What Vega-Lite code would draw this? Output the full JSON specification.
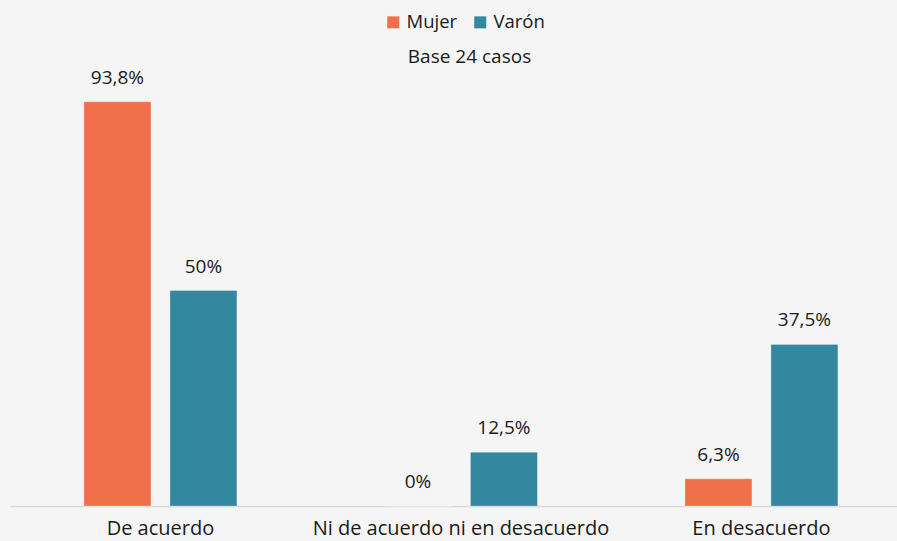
{
  "$schema": "https://vega.github.io/schema/vega-lite/v6.json",
  "width": 887,
  "height": 431,
  "autosize": {"type": "none"},
  "padding": {"left": 10, "top": 75, "right": 0, "bottom": 35},
  "background": "#f5f5f5",
  "config": {
    "view": {"stroke": null},
    "font": "Open Sans",
    "text": {"font": "Open Sans"}
  },
  "title": {
    "text": "Base 24 casos",
    "fontSize": 19,
    "fontWeight": "normal",
    "color": "#1a1a1a",
    "font": "Open Sans",
    "anchor": "middle",
    "dx": 16,
    "offset": -54
  },
  "data": {
    "values": [
      {"categoria": "De acuerdo", "sexo": "Mujer", "valor": 93.8, "etiqueta": "93,8%"},
      {"categoria": "De acuerdo", "sexo": "Varón", "valor": 50, "etiqueta": "50%"},
      {"categoria": "Ni de acuerdo ni en desacuerdo", "sexo": "Mujer", "valor": 0, "etiqueta": "0%"},
      {"categoria": "Ni de acuerdo ni en desacuerdo", "sexo": "Varón", "valor": 12.5, "etiqueta": "12,5%"},
      {"categoria": "En desacuerdo", "sexo": "Mujer", "valor": 6.3, "etiqueta": "6,3%"},
      {"categoria": "En desacuerdo", "sexo": "Varón", "valor": 37.5, "etiqueta": "37,5%"}
    ]
  },
  "encoding": {
    "x": {
      "field": "categoria",
      "type": "nominal",
      "sort": ["De acuerdo", "Ni de acuerdo ni en desacuerdo", "En desacuerdo"],
      "scale": {"paddingInner": 0.491, "paddingOuter": 0.2214, "align": 0.556},
      "axis": {
        "title": null,
        "labelAngle": 0,
        "labelFontSize": 20,
        "labelColor": "#1a1a1a",
        "labelFont": "Open Sans",
        "labelPadding": 12,
        "labelLimit": 0,
        "ticks": false,
        "domainColor": "#d9d9d9",
        "domainWidth": 1.5
      }
    },
    "xOffset": {
      "field": "sexo",
      "type": "nominal",
      "sort": ["Mujer", "Varón"],
      "scale": {"paddingInner": 0.221, "paddingOuter": 0}
    },
    "y": {
      "field": "valor",
      "type": "quantitative",
      "scale": {"domain": [0, 100]},
      "axis": null
    }
  },
  "layer": [
    {
      "mark": {"type": "bar", "stroke": "white", "strokeWidth": 0.75, "strokeOpacity": 0.4},
      "encoding": {
        "color": {
          "field": "sexo",
          "type": "nominal",
          "sort": ["Mujer", "Varón"],
          "scale": {"domain": ["Mujer", "Varón"], "range": ["#ef7049", "#33879e"]},
          "legend": {
            "title": null,
            "orient": "none",
            "direction": "horizontal",
            "legendX": 374,
            "legendY": -62,
            "symbolType": "square",
            "symbolSize": 144,
            "symbolStrokeWidth": 0,
            "labelFontSize": 18.5,
            "labelFont": "Open Sans",
            "labelColor": "#1a1a1a",
            "labelOffset": 4,
            "columnPadding": 13
          }
        }
      }
    },
    {
      "mark": {"type": "text", "baseline": "alphabetic", "dy": -18, "fontSize": 19, "color": "#1a1a1a", "font": "Open Sans"},
      "encoding": {
        "text": {"field": "etiqueta", "type": "nominal"}
      }
    }
  ]
}
